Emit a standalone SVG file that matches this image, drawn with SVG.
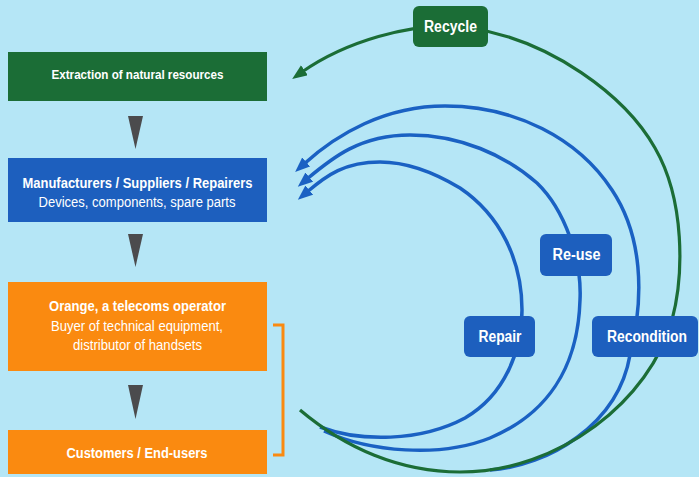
<svg xmlns="http://www.w3.org/2000/svg" width="699" height="477" viewBox="0 0 699 477">
<defs>
<style>
.bg{fill:#b5e6f6}
.green{fill:#1b6d36}
.blue{fill:#1d5fbe}
.orange{fill:#fa8a10}
.tri{fill:#4b4b4d}
.t{font-family:"Liberation Sans",Arial,sans-serif;fill:#ffffff;text-anchor:middle}
.b{font-weight:bold}
.lbl{font-family:"Liberation Sans",Arial,sans-serif;font-weight:bold;font-size:16px;fill:#ffffff;text-anchor:middle}
.arcB{fill:none;stroke:#1a61c3;stroke-width:3.5}
.arcG{fill:none;stroke:#1b6d36;stroke-width:3.2}
</style>
<marker id="ahB" markerUnits="userSpaceOnUse" markerWidth="16" markerHeight="13" refX="3" refY="6" orient="auto">
<path d="M0,0 L15,6 L0,12 z" fill="#1a61c3"/>
</marker>
<marker id="ahG" markerUnits="userSpaceOnUse" markerWidth="16" markerHeight="13" refX="3" refY="6" orient="auto">
<path d="M0,0 L15,6 L0,12 z" fill="#1b6d36"/>
</marker>
</defs>
<rect class="bg" x="0" y="0" width="699" height="477"/>

<g id="connectors">
<polygon class="tri" points="128,116 143,116 135.5,149"/>
<polygon class="tri" points="128,234 143,234 135.5,267"/>
<polygon class="tri" points="128,385 143,385 135.5,419"/>
<path d="M273,325 H283 V455 H273" fill="none" stroke="#fa8a10" stroke-width="3"/>
<path class="arcB" marker-end="url(#ahB)" d="M490,470 C548,466 618,425 630,355 C645,295 642,235 612,190 C578,138 515,106 445,106 C385,106 337,134 304,164"/>
<path class="arcB" marker-end="url(#ahB)" d="M324,431 C370,452 440,458 490,438 C545,415 578,370 580,300 C582,260 565,210 537,183 C505,155 460,135 410,135 C360,135 332,158 307,179"/>
<path class="arcB" marker-end="url(#ahB)" d="M320,427 C360,442 420,442 465,418 C505,395 522,350 522,310 C522,260 500,215 460,188 C430,170 405,162 380,162 C345,162 327,175 307,192"/>
<path class="arcG" marker-end="url(#ahG)" d="M300,410 C345,448 400,472 460,472 C560,472 650,400 672,320 C684,275 685,200 655,148 C625,95 550,40 470,28 C410,20 342,44 302,72"/>
</g>

<g id="extraction">
<rect class="green" x="8" y="52" width="259" height="49"/>
<text class="t b" x="137.5" y="79" font-size="13.5" textLength="172" lengthAdjust="spacingAndGlyphs">Extraction of natural resources</text>
</g>

<g id="manufacturers">
<rect class="blue" x="8" y="158" width="259" height="64"/>
<text class="t b" x="137.5" y="188" font-size="14.5" textLength="230" lengthAdjust="spacingAndGlyphs">Manufacturers / Suppliers / Repairers</text>
<text class="t" x="137" y="207" font-size="14" textLength="197" lengthAdjust="spacingAndGlyphs">Devices, components, spare parts</text>
</g>

<g id="orange">
<rect class="orange" x="8" y="282" width="259" height="89"/>
<text class="t b" x="137.5" y="311" font-size="14.5" textLength="177" lengthAdjust="spacingAndGlyphs">Orange, a telecoms operator</text>
<text class="t" x="137" y="331" font-size="14" textLength="172" lengthAdjust="spacingAndGlyphs">Buyer of technical equipment,</text>
<text class="t" x="137.5" y="350" font-size="14" textLength="129" lengthAdjust="spacingAndGlyphs">distributor of handsets</text>
</g>

<g id="customers">
<rect class="orange" x="8" y="430" width="259" height="44"/>
<text class="t b" x="137" y="458" font-size="14.5" textLength="141" lengthAdjust="spacingAndGlyphs">Customers / End-users</text>
</g>

<g id="recycle">
<rect class="green" x="413" y="6" width="75" height="41" rx="6"/>
<text class="lbl" x="450.5" y="32" textLength="53" lengthAdjust="spacingAndGlyphs">Recycle</text>
</g>

<g id="reuse">
<rect class="blue" x="540" y="234" width="72" height="42" rx="6"/>
<text class="lbl" x="576.5" y="260" textLength="48" lengthAdjust="spacingAndGlyphs">Re-use</text>
</g>

<g id="repair">
<rect class="blue" x="464" y="316" width="71" height="41" rx="6"/>
<text class="lbl" x="500" y="342" textLength="43" lengthAdjust="spacingAndGlyphs">Repair</text>
</g>

<g id="recondition">
<rect class="blue" x="592" y="316" width="106" height="41" rx="6"/>
<text class="lbl" x="647" y="342" textLength="80" lengthAdjust="spacingAndGlyphs">Recondition</text>
</g>
</svg>
